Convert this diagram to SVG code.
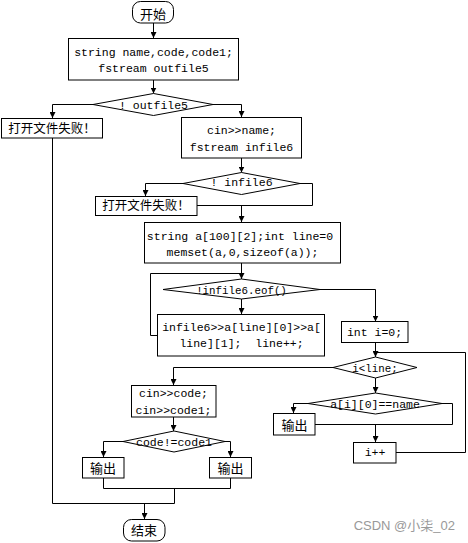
<svg xmlns="http://www.w3.org/2000/svg" width="468" height="543" viewBox="0 0 468 543">
<style>
.box{fill:#fff;stroke:#000;stroke-width:1}
.ln{fill:none;stroke:#000;stroke-width:1}
.t{font-family:"Liberation Mono","DejaVu Sans Mono",monospace;font-size:11.5px;text-anchor:middle;fill:#000;white-space:pre}
.c{font-family:"Noto Sans CJK SC","Noto Sans CJK JP",sans-serif;font-size:12.5px;text-anchor:middle;fill:#000}
</style>
<defs>
<marker id="ah" markerWidth="6" markerHeight="6" refX="6" refY="3" orient="auto" markerUnits="userSpaceOnUse">
<path d="M0,0 L6,3 L0,6 z" fill="#000"/>
</marker>
</defs>
<rect width="468" height="543" fill="#fff"/>
<g id="connectors">
<path class="ln" d="M153.5,23 V38" marker-end="url(#ah)"/>
<path class="ln" d="M153.5,80 V93.5" marker-end="url(#ah)"/>
<path class="ln" d="M93,104.5 H52.5 V118" marker-end="url(#ah)"/>
<path class="ln" d="M213,104.5 H241.5 V117" marker-end="url(#ah)"/>
<path class="ln" d="M241.5,158 V172.5" marker-end="url(#ah)"/>
<path class="ln" d="M183,183.5 H145.5 V196" marker-end="url(#ah)"/>
<path class="ln" d="M300,183.5 H312.5 V205.5 H197"/>
<path class="ln" d="M241.5,205.5 V222" marker-end="url(#ah)"/>
<path class="ln" d="M241.5,263 V279" marker-end="url(#ah)"/>
<path class="ln" d="M157,335.5 H150.5 V273.5 H241.5"/>
<path class="ln" d="M241.5,299 V314" marker-end="url(#ah)"/>
<path class="ln" d="M320,289.5 H375.5 V321.5" marker-end="url(#ah)"/>
<path class="ln" d="M375.5,342.5 V357" marker-end="url(#ah)"/>
<path class="ln" d="M396,452.5 H465.5 V352.5 H375.5"/>
<path class="ln" d="M333,367.5 H173.5 V385" marker-end="url(#ah)"/>
<path class="ln" d="M375.5,378 V393" marker-end="url(#ah)"/>
<path class="ln" d="M308,403.5 H293.5 V413" marker-end="url(#ah)"/>
<path class="ln" d="M442,403.5 H452.5 V424.5 H315"/>
<path class="ln" d="M375.5,424.5 V442" marker-end="url(#ah)"/>
<path class="ln" d="M173.5,417 V431" marker-end="url(#ah)"/>
<path class="ln" d="M123,441.5 H103.5 V457" marker-end="url(#ah)"/>
<path class="ln" d="M225,441.5 H230.5 V457" marker-end="url(#ah)"/>
<path class="ln" d="M103.5,478 V488.5 H230.5 V478"/>
<path class="ln" d="M174.5,488.5 V503.5 H52.5 V138"/>
<path class="ln" d="M144.5,503.5 V519" marker-end="url(#ah)"/>
</g>
<g id="start">
<rect class="box" x="132.5" y="1.5" width="41" height="21.5" rx="8"/>
<text class="c" x="153" y="18.5" style="font-size:13px">开始</text>
</g>
<g id="decl">
<rect class="box" x="68.5" y="38.5" width="170" height="41.5"/>
<text class="t" x="153.5" y="56">string name,code,code1;</text>
<text class="t" x="153.5" y="72">fstream outfile5</text>
</g>
<g id="d_outfile">
<polygon class="box" points="93,104.5 153.5,93.5 213,104.5 153.5,115.5"/>
<text class="t" x="153.5" y="109">! outfile5</text>
</g>
<g id="fail1">
<rect class="box" x="1.5" y="118.5" width="101" height="19.5"/>
<text class="c" x="52" y="133">打开文件失败！</text>
</g>
<g id="cin_name">
<rect class="box" x="181.5" y="117.5" width="120" height="40.5"/>
<text class="t" x="241.5" y="134">cin&gt;&gt;name;</text>
<text class="t" x="241.5" y="151">fstream infile6</text>
</g>
<g id="d_infile">
<polygon class="box" points="183,183.5 241.5,172.5 300,183.5 241.5,194.5"/>
<text class="t" x="241.5" y="186">! infile6</text>
</g>
<g id="fail2">
<rect class="box" x="95.5" y="196.5" width="101.5" height="19"/>
<text class="c" x="146" y="210">打开文件失败！</text>
</g>
<g id="init">
<rect class="box" x="144.5" y="222.5" width="196" height="40.5"/>
<text class="t" x="240" y="240">string a[100][2];int line=0</text>
<text class="t" x="242.5" y="256">memset(a,0,sizeof(a));</text>
</g>
<g id="d_eof">
<polygon class="box" points="163,289.5 241.5,279 320,289.5 241.5,299"/>
<text class="t" x="241.5" y="294" style="font-size:10.8px">!infile6.eof()</text>
</g>
<g id="read">
<rect class="box" x="157.5" y="314.5" width="167" height="41.5"/>
<text class="t" x="241.5" y="331">infile6&gt;&gt;a[line][0]&gt;&gt;a[</text>
<text class="t" x="241.5" y="347" xml:space="preserve">line][1];  line++;</text>
</g>
<g id="int_i">
<rect class="box" x="341.5" y="321.5" width="66.5" height="21"/>
<text class="t" x="374.5" y="336">int i=0;</text>
</g>
<g id="d_iline">
<polygon class="box" points="333,367.5 375.5,357 417,367.5 375.5,378"/>
<text class="t" x="375" y="372" style="font-size:10.8px">i&lt;line;</text>
</g>
<g id="d_name">
<polygon class="box" points="308,403.5 375.5,393 442,403.5 375.5,414"/>
<text class="t" x="375" y="408">a[i][0]==name</text>
</g>
<g id="out1">
<rect class="box" x="273.5" y="413.5" width="41.5" height="21.5"/>
<text class="c" x="294.5" y="429.5" style="font-size:13px">输出</text>
</g>
<g id="inc">
<rect class="box" x="353.5" y="442.5" width="42.5" height="20.5"/>
<text class="t" x="375" y="456">i++</text>
</g>
<g id="cin_code">
<rect class="box" x="131.5" y="385.5" width="84.5" height="31.5"/>
<text class="t" x="173.5" y="397">cin&gt;&gt;code;</text>
<text class="t" x="173.5" y="414">cin&gt;&gt;code1;</text>
</g>
<g id="d_code">
<polygon class="box" points="123,441.5 174,431 225,441.5 174,452"/>
<text class="t" x="174" y="446">code!=code1</text>
</g>
<g id="out2">
<rect class="box" x="82.5" y="457.5" width="41.5" height="20.5"/>
<text class="c" x="103" y="472.5" style="font-size:13px">输出</text>
</g>
<g id="out3">
<rect class="box" x="209.5" y="457.5" width="42" height="20.5"/>
<text class="c" x="230.5" y="472.5" style="font-size:13px">输出</text>
</g>
<g id="end">
<rect class="box" x="123.5" y="519.5" width="41.5" height="21.5" rx="8"/>
<text class="c" x="144" y="535" style="font-size:13px">结束</text>
</g>
<text x="455" y="530" style="font-family:'Liberation Sans','Noto Sans CJK SC',sans-serif;font-size:13px;fill:#999;text-anchor:end">CSDN @小柒_02</text>
</svg>
